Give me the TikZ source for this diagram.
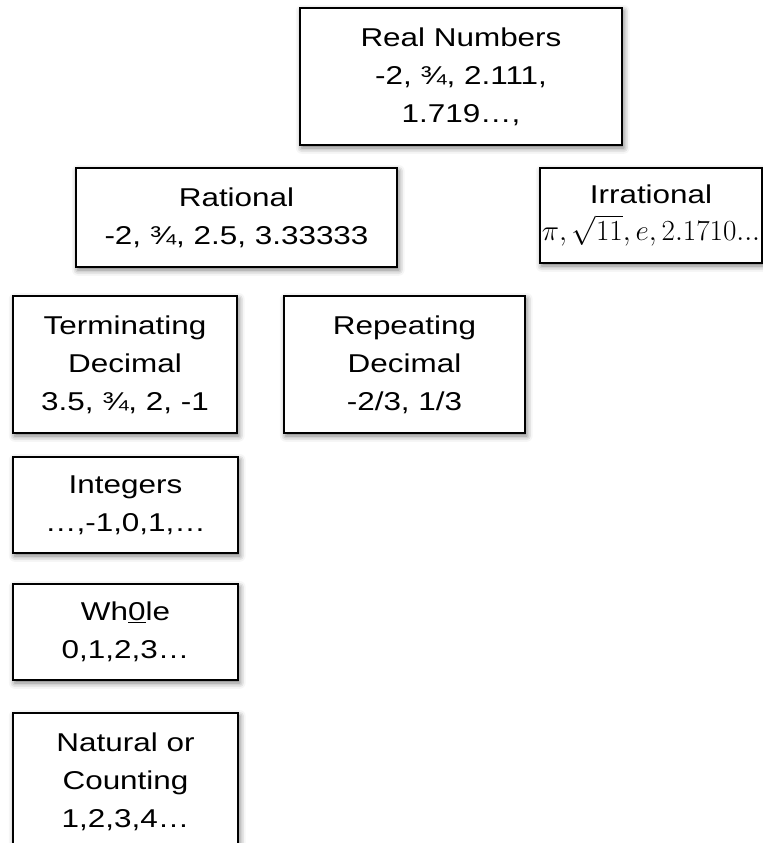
\documentclass[tikz,border=0pt]{standalone}
\usepackage{fontspec}
\setmainfont{Liberation Sans}[FakeStretch=1.22]
\usetikzlibrary{shadows.blur}

\begin{document}
\begin{tikzpicture}[x=0.03cm, y=-0.03cm,
                    numbox/.style={draw, line width=2pt, fill=white, align=center, inner sep=0pt,
                                   font=\fontsize{22}{32.4}\selectfont,
                                   blur shadow={shadow xshift=1.5pt, shadow yshift=-2.5pt,
                                                shadow blur radius=5pt, shadow opacity=55}}]
                            \useasboundingbox (0,0) rectangle (763,843);

                            \node[numbox, minimum width=9.66cm, minimum height=4.11cm] (real) at (461,76.5)
                                {Real Numbers\\-2, ¾, 2.111,\\1.719…,};
                            \node[numbox, minimum width=9.63cm, minimum height=2.97cm] (rational) at (236.5,217.5)
                                {Rational\\-2, ¾, 2.5, 3.33333};
                            \node[numbox, minimum width=6.66cm, minimum height=2.85cm] (irrational) at (651,215.5)
                                {Irrational\\{\fontsize{24}{34}\selectfont$\pi, \sqrt{11}, e, 2.1710...$}};
                            \node[numbox, minimum width=6.72cm, minimum height=4.11cm] (terminating) at (125,364.5)
                                {Terminating\\Decimal\\3.5, ¾, 2, -1};
                            \node[numbox, minimum width=7.23cm, minimum height=4.11cm] (repeating) at (404.5,364.5)
                                {Repeating\\Decimal\\-2/3, 1/3};
                            \node[numbox, minimum width=6.75cm, minimum height=2.88cm] (integers) at (125.5,505)
                                {Integers\\…,-1,0,1,…};
                            \node[numbox, minimum width=6.75cm, minimum height=2.88cm] (whole) at (125.5,632)
                                {Wh\underline{0}le\\0,1,2,3…};
                            \node[numbox, minimum width=6.75cm, minimum height=4.11cm] (natural) at (125.5,781.5)
                                {Natural or\\Counting\\1,2,3,4…};
                        \end{tikzpicture}
\end{document}
